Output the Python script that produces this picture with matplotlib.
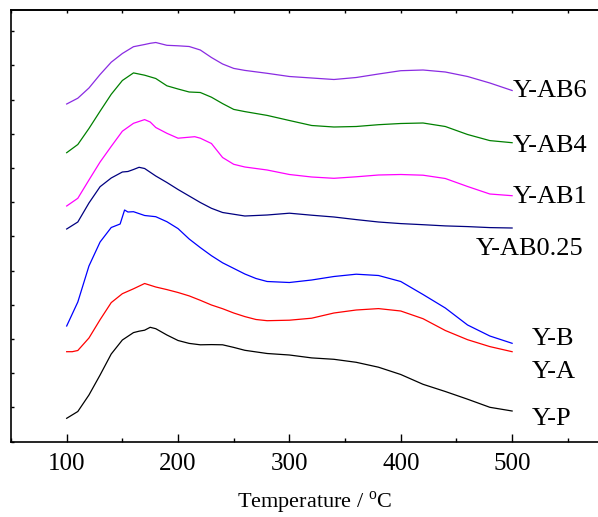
import matplotlib
matplotlib.use("Agg")
import matplotlib.pyplot as plt
from matplotlib.ticker import MultipleLocator

plt.rcParams['font.family'] = ['Liberation Serif', 'DejaVu Serif']
plt.rcParams['mathtext.fontset'] = 'custom'
plt.rcParams['mathtext.rm'] = 'Liberation Serif'

# ---- data (intensity, a.u., stacked) ----
t_ab6 = [100,110,120,130,140,150,160,170,175,180,190,200,210,220,230,240,250,260,280,300,320,340,360,380,400,420,440,460,480,500]
y_ab6 = [337.7,343.5,353.7,367.2,379.5,388.2,395.0,397.2,398.4,399.2,396.4,395.9,395.2,391.7,384.2,377.7,373.3,371.3,368.4,365.2,363.7,362.2,364.2,367.7,371.0,371.7,369.7,365.2,358.7,351.2]

t_ab4 = [100,110,120,130,140,150,160,170,180,190,200,210,220,230,240,250,260,280,300,320,340,360,380,400,420,440,460,480,500]
y_ab4 = [289.0,297.2,313.2,330.5,347.4,361.2,368.8,366.5,363.2,355.9,352.7,349.7,349.2,344.5,338.1,332.3,330.1,326.3,321.2,316.2,314.7,315.2,317.0,318.2,318.7,315.2,307.2,301.1,299.0]

t_ab1 = [100,110,120,130,140,150,160,170,175,180,190,200,210,215,220,230,240,250,260,280,300,320,340,360,380,400,420,440,460,480,500]
y_ab1 = [235.7,243.4,261.7,279.7,295.3,310.5,318.4,322.1,319.7,314.2,308.4,303.5,304.5,305.0,303.5,298.2,284.2,277.4,274.7,271.7,267.2,264.7,263.4,264.9,266.7,267.2,266.5,263.2,255.2,247.7,246.0]

t_ab025 = [100,110,120,130,140,150,155,160,165,170,180,190,200,210,220,230,240,260,280,300,320,340,360,380,400,420,440,460,480,500]
y_ab025 = [212.7,219.7,238.7,255.0,263.7,269.7,270.2,272.2,274.4,273.2,265.7,259.2,252.2,245.7,239.2,233.4,229.2,225.7,226.7,228.5,226.5,224.7,222.1,219.7,218.1,217.0,215.8,215.1,214.1,213.7]

t_b = [100,110,120,130,140,148,152,155,160,170,180,190,200,210,220,230,240,250,260,270,280,300,320,340,360,380,400,420,440,460,480,500]
y_b = [115.7,139.7,175.7,199.7,214.2,217.7,231.7,229.7,230.0,226.2,225.0,220.0,213.1,202.7,194.1,186.0,178.9,173.3,167.7,163.2,160.2,159.2,161.7,165.2,167.5,166.2,160.2,147.2,133.7,116.7,105.7,98.4]

t_a = [100,105,110,120,130,140,150,160,170,180,190,200,210,220,230,240,250,260,270,280,300,320,340,360,380,400,420,440,460,480,500]
y_a = [90.0,90.0,91.2,103.7,122.0,139.1,148.0,152.9,158.2,154.7,152.1,149.2,145.8,141.4,136.7,133.0,128.7,125.1,122.2,121.0,121.5,123.5,128.7,131.7,133.1,130.7,123.0,111.2,102.0,95.1,90.0]

t_p = [100,110,120,130,140,150,160,165,170,175,180,190,200,210,220,230,240,250,260,280,300,320,340,360,380,400,420,440,460,480,500]
y_p = [23.4,30.2,46.7,66.7,87.7,101.7,109.1,110.5,111.5,114.4,113.0,106.7,101.2,98.3,96.9,97.1,96.9,94.3,91.4,88.2,86.7,83.8,82.4,79.4,74.5,67.2,57.4,50.2,42.5,34.4,30.7]

names = ['Y-AB6', 'Y-AB4', 'Y-AB1', 'Y-AB0.25', 'Y-B', 'Y-A', 'Y-P']
colors = ['#8A2BE2', '#008000', '#FF00FF', '#000080', '#0000FF', '#FF0000', '#000000']
label_x = [501, 501, 501, 467, 518, 518, 518]
label_y = [344.7, 289.7, 238.7, 186.7, 96.7, 63.7, 16.7]

series = [(t_ab6, y_ab6), (t_ab4, y_ab4), (t_ab1, y_ab1), (t_ab025, y_ab025),
          (t_b, y_b), (t_a, y_a), (t_p, y_p)]

fig = plt.figure(figsize=(5.98, 5.17), dpi=100)
ax = fig.add_axes([11/598, 1 - 441.7/517, (601.2 - 11)/598, 432/517])

for (t, y), c in zip(series, colors):
    ax.plot(t, y, color=c, lw=0.9)

for name, lx, ly in zip(names, label_x, label_y):
    ax.text(lx, ly, name, fontsize=19, ha='left', va='baseline')

ax.set_xlim(50, 580)
ax.set_ylim(0, 432)
ax.xaxis.set_major_locator(MultipleLocator(100))
ax.xaxis.set_minor_locator(MultipleLocator(50))
ax.set_xticks([100, 200, 300, 400, 500])
ax.yaxis.set_major_locator(MultipleLocator(34.2))
ax.set_yticklabels([])
ax.tick_params(axis='x', which='major', direction='in', length=6, width=1, labelsize=18, pad=8)
ax.tick_params(axis='x', which='minor', direction='in', length=3, width=1)
ax.tick_params(axis='y', which='major', direction='in', length=2.5, width=1)
for s in ax.spines.values():
    s.set_linewidth(1.2)
ax.spines['right'].set_visible(False)

sec = ax.secondary_xaxis('top')
sec.xaxis.set_major_locator(MultipleLocator(50))
sec.tick_params(direction='in', length=2.5, width=1, labeltop=False)
for k, s in sec.spines.items():
    if k == 'top':
        s.set_linewidth(1.2)
    else:
        s.set_visible(False)

fig.text(315/598, 1 - 508/517, 'Temperature / $^{\\rm o}$C', fontsize=16, ha='center', va='baseline')

fig.savefig('out.png', dpi=100)
